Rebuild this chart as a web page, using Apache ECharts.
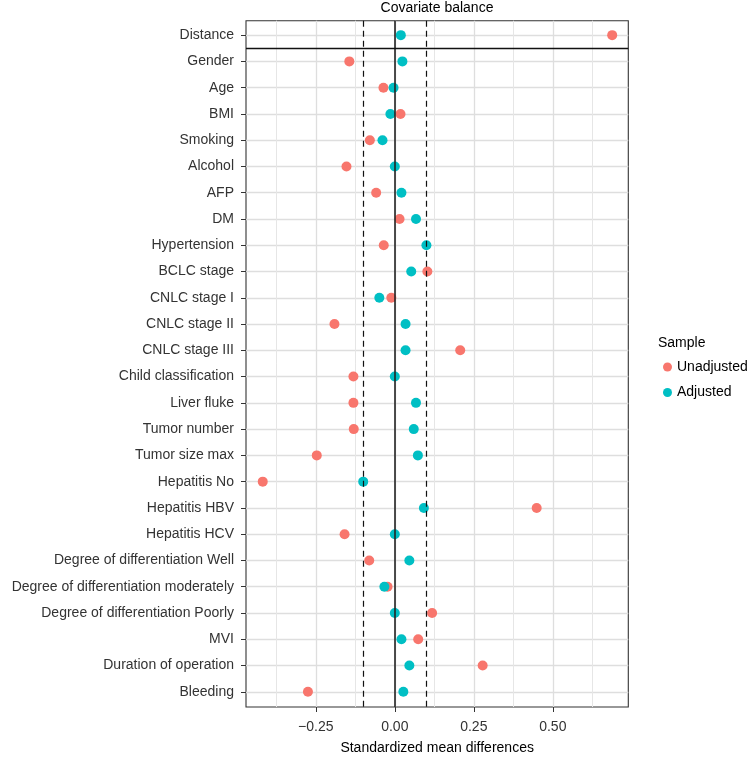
<!DOCTYPE html>
<html><head><meta charset="utf-8">
<script src="https://cdn.jsdelivr.net/npm/echarts@6/dist/echarts.min.js"></script>
<style>html,body{margin:0;padding:0;background:#fff}#c{width:752px;height:760px}</style>
</head><body><div id="c"></div><script>
const covariates = ["Distance","Gender","Age","BMI","Smoking","Alcohol","AFP","DM","Hypertension","BCLC stage","CNLC stage I","CNLC stage II","CNLC stage III","Child classification","Liver fluke","Tumor number","Tumor size max","Hepatitis No","Hepatitis HBV","Hepatitis HCV","Degree of differentiation Well","Degree of differentiation moderately","Degree of differentiation Poorly","MVI","Duration of operation","Bleeding"];
const unadjusted = [0.688,-0.144,-0.036,0.018,-0.079,-0.153,-0.059,0.015,-0.035,0.103,-0.011,-0.191,0.207,-0.131,-0.131,-0.130,-0.247,-0.418,0.449,-0.159,-0.081,-0.023,0.118,0.074,0.278,-0.275];
const adjusted = [0.019,0.024,-0.004,-0.014,-0.039,0.000,0.021,0.067,0.100,0.052,-0.049,0.034,0.034,0.000,0.067,0.060,0.073,-0.100,0.092,0.000,0.046,-0.033,0.000,0.021,0.046,0.027];
const xTicks = [-0.25,0,0.25,0.5];
const xMinorTicks = [-0.375,-0.125,0.125,0.375,0.625];
const threshold = 0.1;
const seriesNames = ["Unadjusted","Adjusted"];

const FONT = "'Liberation Sans', Arial, Helvetica, sans-serif";
const FS = 14;
const rowIdx = covariates.map((_, i) => i);
const fmtX = v => (v < 0 ? '\u2212' : '') + Math.abs(v).toFixed(2);

const chart = echarts.init(document.getElementById('c'), null, {renderer: 'canvas'});
chart.setOption({
  animation: false,
  backgroundColor: '#fff',
  textStyle: {fontFamily: FONT},
  graphic: [
    {type: 'text', x: 437, y: 8, style: {text: 'Covariate balance', align: 'center', verticalAlign: 'middle', font: FS + 'px ' + FONT, fill: '#000'}},
    {type: 'text', x: 658, y: 343, style: {text: 'Sample', align: 'left', verticalAlign: 'middle', font: FS + 'px ' + FONT, fill: '#000'}}
  ],
  legend: {
    data: seriesNames,
    orient: 'vertical',
    left: 663, top: 359,
    itemWidth: 9, itemHeight: 9, itemGap: 9.5,
    icon: 'circle',
    padding: 0,
    textStyle: {fontSize: FS, color: '#000', fontFamily: FONT, lineHeight: 16}
  },
  grid: {left: 246, right: 123.7, top: 20.7, bottom: 45.7, show: true, borderColor: '#333', borderWidth: 1.1, backgroundColor: 'transparent'},
  xAxis: [{
    type: 'value', min: -0.471, max: 0.739,
    name: 'Standardized mean differences', nameLocation: 'middle', nameGap: 34,
    nameTextStyle: {fontSize: FS, color: '#000', fontFamily: FONT},
    axisLine: {show: false, onZero: false},
    axisTick: {show: true, customValues: xTicks, length: 5, lineStyle: {color: '#333', width: 1}},
    axisLabel: {customValues: xTicks, formatter: fmtX, fontSize: FS, color: '#333', margin: 13, fontFamily: FONT},
    splitLine: {show: true, lineStyle: {color: '#dedede', width: 1.3}}
  }, {
    type: 'value', min: -0.471, max: 0.739, position: 'bottom',
    axisLine: {show: false, onZero: false},
    axisTick: {show: false, customValues: xMinorTicks},
    axisLabel: {show: false, customValues: xMinorTicks},
    splitLine: {show: true, lineStyle: {color: '#e6e6e6', width: 1}}
  }],
  yAxis: {
    type: 'value', inverse: true, min: -0.55, max: 25.58,
    axisLine: {show: false, onZero: false},
    axisTick: {show: true, customValues: rowIdx, length: 5, lineStyle: {color: '#333', width: 1}},
    axisLabel: {customValues: rowIdx, formatter: v => covariates[Math.round(v)], fontSize: FS, color: '#333', margin: 12, fontFamily: FONT},
    splitLine: {show: true, lineStyle: {color: '#dedede', width: 1.3}}
  },
  series: [
    {
      type: 'line', data: [], z: 1, silent: true,
      markLine: {
        silent: true, symbol: 'none', label: {show: false},
        data: [
          {xAxis: 0, lineStyle: {color: '#222', width: 1.6, type: 'solid'}},
          {xAxis: -threshold, lineStyle: {color: '#111', width: 1.2, type: [6, 4]}},
          {xAxis: threshold, lineStyle: {color: '#111', width: 1.2, type: [6, 4]}},
          {yAxis: 0.5, lineStyle: {color: '#111', width: 1.3, type: 'solid'}}
        ]
      }
    },
    {name: seriesNames[0], type: 'scatter', z: 3, symbolSize: 10, itemStyle: {color: '#F8766D', opacity: 1}, data: unadjusted.map((v, i) => [v, i])},
    {name: seriesNames[1], type: 'scatter', z: 4, symbolSize: 10, itemStyle: {color: '#00BFC4', opacity: 1}, data: adjusted.map((v, i) => [v, i])}
  ]
});
</script></body></html>
